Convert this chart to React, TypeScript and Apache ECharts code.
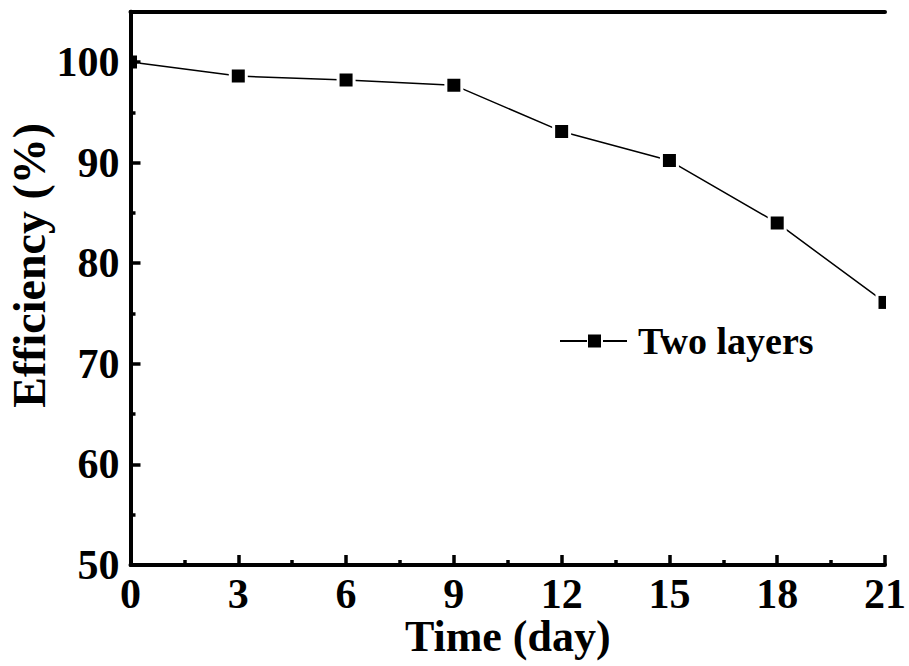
import React, { useEffect, useRef } from "react";
import * as echarts from "echarts";

const days = [0, 3, 6, 9, 12, 15, 18, 21];
const efficiency = [100, 98.6, 98.2, 97.7, 93.1, 90.2, 84.0, 76.1];
const yMajorTicks = [50, 60, 70, 80, 90, 100];
const yMinorTicks = [55, 65, 75, 85, 95];
const seriesName = "Two layers";
const xTitle = "Time (day)";
const yTitle = "Efficiency (%)";

const FONT = "'Liberation Serif', 'Times New Roman', serif";
const BLACK = "#000";

export default function App() {
  const ref = useRef<HTMLDivElement>(null);

  useEffect(() => {
    if (!ref.current) return;
    const chart = echarts.init(ref.current, undefined, { renderer: "svg" });
    const points = days.map((d, i) => [d, efficiency[i]]);
    const axisLine = { show: true, lineStyle: { color: BLACK, width: 4 } };
    const labelStyle = { fontFamily: FONT, fontWeight: "bold" as const, color: BLACK };

    chart.setOption({
      animation: false,
      backgroundColor: "#fff",
      grid: {
        left: 130.5,
        right: 24,
        top: 11.7,
        bottom: 101,
        containLabel: false,
        outerBoundsMode: "none",
      },
      xAxis: [
        {
          type: "value",
          min: 0,
          max: 21,
          interval: 3,
          position: "bottom",
          z: 5,
          axisLine,
          axisTick: { show: true, inside: true, length: 10, lineStyle: { color: BLACK, width: 3.5 } },
          minorTick: { show: true, splitNumber: 2, length: 5, lineStyle: { color: BLACK, width: 3.5 } },
          splitLine: { show: false },
          axisLabel: { ...labelStyle, fontSize: 42, lineHeight: 34, margin: 12 },
          name: xTitle,
          nameLocation: "middle",
          nameGap: 51,
          nameMoveOverlap: false,
          nameTextStyle: { ...labelStyle, fontSize: 44, lineHeight: 40 },
        },
        {
          type: "value",
          min: 0,
          max: 21,
          position: "top",
          z: 5,
          axisLine,
          axisTick: { show: false },
          axisLabel: { show: false },
          splitLine: { show: false },
        },
      ],
      yAxis: [
        {
          type: "value",
          min: 50,
          max: 105,
          position: "left",
          z: 5,
          axisLine,
          axisTick: {
            show: true,
            inside: true,
            length: 10,
            customValues: yMajorTicks,
            lineStyle: { color: BLACK, width: 3.5 },
          },
          axisLabel: { ...labelStyle, fontSize: 42, margin: 11, customValues: yMajorTicks },
          splitLine: { show: false },
          name: yTitle,
          nameLocation: "middle",
          nameRotate: 90,
          nameGap: 78,
          nameMoveOverlap: false,
          nameTextStyle: { ...labelStyle, fontSize: 46, padding: [0, 0, 0, 46] },
        },
        {
          type: "value",
          min: 50,
          max: 105,
          position: "right",
          z: 5,
          axisLine,
          axisTick: { show: false },
          axisLabel: { show: false },
          splitLine: { show: false },
        },
        {
          type: "value",
          min: 50,
          max: 105,
          position: "left",
          offset: 0,
          z: 5,
          axisLine: { show: false },
          axisTick: {
            show: true,
            inside: true,
            length: 5,
            customValues: yMinorTicks,
            lineStyle: { color: BLACK, width: 3.5 },
          },
          axisLabel: { show: false },
          splitLine: { show: false },
        },
      ],
      legend: {
        left: 560,
        top: 322,
        padding: 0,
        itemWidth: 67,
        itemHeight: 13,
        data: [
          {
            name: seriesName,
            icon: "path://M0,5.5h27v2h-27z M28,0h13v13h-13z M43,5.5h24v2h-24z",
          },
        ],
        textStyle: { ...labelStyle, fontSize: 38, padding: [0, 0, 0, 6] },
      },
      series: [
        {
          type: "line",
          name: seriesName,
          xAxisIndex: 0,
          yAxisIndex: 0,
          data: points,
          symbol: "none",
          color: BLACK,
          lineStyle: { color: BLACK, width: 1.5 },
          itemStyle: { color: BLACK },
          z: 2,
        },
        {
          type: "custom",
          name: "markers",
          xAxisIndex: 0,
          yAxisIndex: 0,
          data: points,
          clip: true,
          z: 3,
          renderItem: (params: any, api: any) => {
            const p = api.coord([api.value(0), api.value(1)]);
            return {
              type: "group",
              children: [
                {
                  type: "rect",
                  shape: { x: p[0] - 9.5, y: p[1] - 9.5, width: 19, height: 19 },
                  style: { fill: "#fff" },
                },
                {
                  type: "rect",
                  shape: { x: p[0] - 6.5, y: p[1] - 6.5, width: 13, height: 13 },
                  style: { fill: BLACK },
                },
              ],
            };
          },
        },
      ],
    });

    return () => chart.dispose();
  }, []);

  return (
    <div
      ref={ref}
      style={{ position: "fixed", left: 0, top: 0, width: 909, height: 666, background: "#fff" }}
    />
  );
}
